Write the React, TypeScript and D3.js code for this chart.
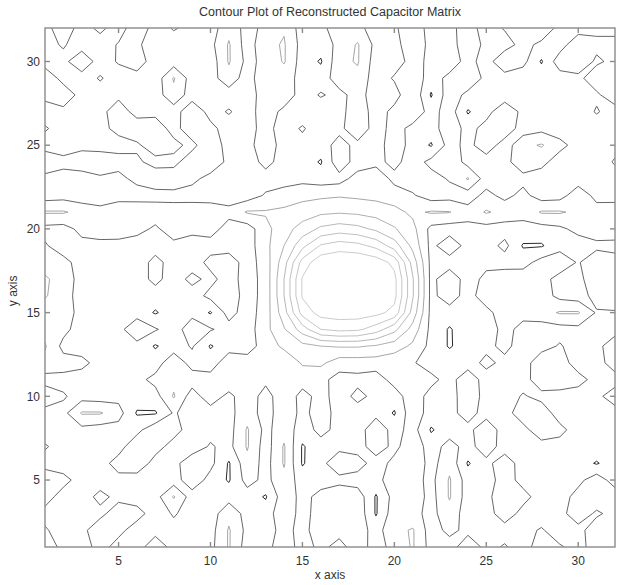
import React, { useEffect, useRef } from 'react';
import * as d3 from 'd3';

const title = 'Contour Plot of Reconstructed Capacitor Matrix';
const xLabel = 'x axis';
const yLabel = 'y axis';
const xTicks = [5, 10, 15, 20, 25, 30];
const yTicks = [5, 10, 15, 20, 25, 30];
const gridSize = 32;
const levels = [0.5, 1.5, 2.5, 3.5, 4.5, 5.5, 6.5, 7.5];
const levelColors = ['#2a2a2a', '#666666', '#a6a6a6', '#b0b0b0', '#b8b8b8', '#c0c0c0', '#c6c6c6', '#cccccc'];

// reconstructed matrix, one row per y value from 32 (top) down to 1, x = 1..32
const matrixRows = [
  [1.1, 2.2, 1, 1.8, 0.9, 2.3, 1, 1.6, 1.2, 1, 2.2, 1.1, 1.8, 2.4, 1, 1.2, 2.1, 1.8, 1, 1.3, 2.3, 1, 1.2, 2, 1, 1.6, 1.8, 2.4, 1.1, 1, 1.2, 0.9],
  [1.2, 1.6, 1, 0.9, 1.6, 1.6, 1.2, 1, 0.9, 1.2, 2.6, 1, 2.2, 2.6, 1.1, 0.9, 1.8, 2.6, 1.2, 1, 2.4, 1.1, 1, 2.2, 1.2, 1, 1.9, 1.2, 1, 2.3, 1.8, 2.1],
  [1, 1.2, 2.3, 1, 1.6, 1.9, 1.1, 1, 1.2, 0.9, 2.6, 1.2, 1.8, 2.6, 1, 0.4, 2.2, 2.6, 1, 1.1, 1.8, 1.3, 0.9, 1.9, 1, 2.4, 1.8, 0.4, 2.1, 2.3, 1.3, 1.8],
  [2.3, 1.1, 1, 1.6, 1, 1.2, 0.9, 2.6, 1, 1.1, 2.1, 1, 2.3, 1.9, 1.2, 1, 2, 2.2, 1, 1.6, 2.2, 1, 1.8, 2.3, 1.2, 1, 0.9, 1.1, 1, 1.2, 2.2, 1.8],
  [1.8, 2.2, 1.1, 1, 1.2, 1, 1, 2.2, 1, 1.2, 1, 1.1, 1.9, 2.2, 1, 1.6, 1.2, 1.9, 1, 1.1, 2.3, 0.4, 2.1, 1.2, 1, 0.9, 1.1, 1, 1.2, 1, 1.3, 2.2],
  [1, 1.2, 0.9, 1.1, 2.2, 1, 1.2, 1, 2.3, 1.1, 1.6, 1, 2.1, 1.2, 1, 0.9, 1.1, 2.2, 1, 1.8, 2.2, 1.1, 2, 0.4, 1.1, 2.3, 1.2, 1, 1.1, 0.9, 1.6, 1],
  [1.6, 1.1, 1, 1.2, 1.8, 2.3, 2.1, 1.1, 2.2, 1.8, 1, 1.2, 1.8, 1.1, 1.6, 1, 1.2, 2.3, 1, 1.9, 1.2, 1, 2.2, 1.1, 1.9, 2.2, 1, 1.2, 1, 1.1, 0.9, 1],
  [1.1, 1, 1.2, 1, 1.1, 1.3, 2.2, 1.8, 1.2, 2.3, 1, 1.1, 2.2, 1, 1.2, 1, 1.9, 1.2, 1, 2.1, 1.1, 0.4, 1.9, 1.2, 2.1, 1, 2.2, 2.6, 1.8, 1.1, 1, 1.2],
  [2.2, 1.8, 2.1, 2.3, 1.9, 1.7, 1.1, 1.2, 2.1, 2.3, 1.2, 1, 1.8, 1.1, 1, 0.4, 2.2, 1, 1.2, 1.8, 1, 1.8, 2.3, 1.1, 1, 1.2, 2.1, 1.8, 1, 1.1, 1, 1.6],
  [1.2, 1.1, 1, 1.3, 1.2, 1.8, 2.2, 2.1, 1.8, 1.1, 1, 1.2, 1.1, 1, 1.2, 1, 1.1, 1.9, 2.2, 1.2, 1, 1.1, 1.6, 2.6, 1, 1.1, 1.2, 1, 1.1, 1, 1.2, 1.1],
  [1, 1.1, 0.9, 1, 1.2, 1, 1.1, 1.2, 1, 1.1, 1, 1, 1.6, 2, 2.2, 2.3, 2.4, 2.3, 2.2, 2, 1.6, 1, 1.1, 1, 1.8, 1.2, 1.8, 1, 1.1, 2.1, 1.2, 1],
  [2.6, 2.6, 2.2, 1.8, 2, 2.3, 2.1, 1.9, 2.2, 2, 1.8, 2.6, 2.6, 2.7, 3, 3.3, 3.4, 3.3, 3.1, 2.8, 2.3, 2.6, 2.55, 1.9, 2.6, 2.2, 1.8, 2.6, 2.6, 2.3, 1.9, 2.2],
  [1.2, 1.1, 1.8, 2.2, 2.3, 1.9, 1.3, 2.1, 1.8, 1.9, 1.1, 1, 2.2, 3.1, 3.9, 4.7, 5, 4.8, 4.3, 3.6, 2.8, 1.2, 1, 1.2, 1.1, 1, 1.2, 1.1, 1.3, 1.8, 2.2, 2.3],
  [1.6, 1, 1.2, 1.1, 1, 0.9, 1.1, 1.2, 1, 1.1, 1, 1, 2.2, 3.5, 5.2, 6.6, 7, 6.8, 6.2, 5, 3.2, 1.2, 2.2, 1.1, 1, 1.8, 0.4, 0.4, 1.1, 1, 1.2, 1.1],
  [2.2, 1.8, 1.1, 1, 1.2, 1, 1.8, 1.1, 1, 1.8, 2.1, 1, 2, 4.1, 6.9, 8.2, 8.4, 8.4, 8.1, 7.2, 4.1, 1.2, 1, 1.1, 1.2, 1, 1.1, 1.9, 2.2, 1.4, 2.3, 2],
  [2.6, 2.2, 1, 1.1, 1.2, 1, 1.8, 1, 1.8, 1.2, 2, 1, 1.9, 4.5, 7.6, 8.4, 8.6, 8.6, 8.4, 7.8, 4.6, 1.2, 2.2, 1, 1.8, 2.2, 2.1, 1.9, 1.1, 1.2, 2.2, 1.8],
  [2.6, 1.9, 1.1, 1, 1, 1.2, 1, 1.1, 1, 1.8, 2.2, 1, 1.9, 4.5, 7.6, 8.4, 8.6, 8.6, 8.4, 7.8, 4.6, 1.2, 2.1, 1, 2.2, 1.9, 2.3, 2, 1.2, 1, 1.9, 2.2],
  [1.9, 2.2, 1, 1.2, 1, 1.1, 0.4, 1, 1.2, 0.4, 1.9, 1, 2, 4.1, 6.9, 7.9, 8, 8, 7.8, 7.2, 4.1, 1.2, 1, 1.2, 1.1, 2.2, 1.8, 2.1, 2.6, 2.6, 1.4, 1.4],
  [2.1, 1.8, 1, 1.1, 1.2, 2.2, 1.6, 1, 2.1, 1.6, 1.1, 1, 2.2, 3.4, 5, 6.5, 6.8, 6.7, 6, 4.8, 3.1, 1.2, 0.4, 1.1, 1, 1.8, 1.2, 1, 1.1, 1.2, 1, 1.1],
  [2.6, 1.2, 1, 1.1, 1, 1.2, 0.4, 1, 1.6, 0.4, 1.1, 1, 2, 2.7, 3.2, 3.5, 3.6, 3.6, 3.4, 3, 2.3, 1.2, 0.4, 1, 1.2, 1.8, 1, 1.1, 1.6, 1, 1.2, 2.1],
  [2.2, 1.9, 1.8, 1.1, 1, 1.2, 1, 2.2, 1.1, 1, 2.1, 2, 1.6, 1.8, 2.6, 2.7, 2, 2, 2, 1.8, 1.6, 1, 1.1, 1, 1.8, 1.2, 1, 2.2, 1.9, 1.1, 1, 2.1],
  [1.1, 1.2, 1, 1.1, 0.9, 1.2, 1.8, 2.2, 2, 1.9, 2.3, 2.1, 1.8, 2.2, 2, 1.8, 1.1, 1.2, 1, 1.9, 2.2, 1.8, 1.1, 2.2, 1, 1.2, 1.1, 2.1, 2.3, 1.8, 1.2, 1],
  [2.2, 1.6, 1.1, 1, 1.2, 1, 1.1, 2.6, 1, 2.1, 1.2, 2.2, 1, 2.3, 1.1, 1.9, 1, 1.8, 1.2, 1, 2.1, 1.1, 1, 2.2, 1.1, 1, 1.6, 1.2, 1, 1.1, 1.2, 2.1],
  [1.1, 1.2, 2.6, 2.6, 1.9, 0.4, 0.4, 1.6, 1.1, 1, 1.2, 2.1, 1, 2.2, 1.2, 2, 1.1, 1, 1.2, 0.4, 2.2, 1, 1.2, 1.9, 1.1, 1, 2.2, 2.1, 1, 1.2, 1.1, 1],
  [1, 1.1, 1.2, 1, 1.1, 1.2, 2.2, 1.9, 1, 1.2, 1.1, 2.6, 1.2, 2.1, 1, 1.8, 1.2, 1, 2.2, 1.1, 1.9, 0.4, 1, 1.2, 2.2, 1, 1.1, 2.3, 1.8, 1, 1.2, 1],
  [1.6, 1.1, 1, 1.2, 1.1, 2.2, 1.9, 1.1, 1, 1.6, 1.2, 2.6, 1, 2.6, 0.4, 1.1, 1.2, 1, 2.1, 1.2, 2.2, 1, 1.9, 1.1, 2.1, 1, 1.2, 1, 1.1, 1, 1.2, 1],
  [1.1, 1, 1.2, 1.1, 1.9, 2.2, 1.1, 1.2, 2.1, 1.8, 0.4, 2.2, 1.1, 2.6, 0.4, 1.2, 2.2, 2, 1, 1.8, 2.3, 1.1, 2.2, 0.4, 1.2, 2.1, 1, 1.1, 1.2, 1, 0.4, 1.1],
  [2.2, 1.8, 1.1, 1, 1.2, 1, 1.1, 1, 2.2, 1.1, 0.4, 1.9, 1.2, 2.2, 1, 1.1, 1.2, 1, 1.1, 2.2, 1.9, 1.2, 2.6, 1, 1.1, 1.9, 1.2, 1, 1.1, 1.2, 2.1, 1],
  [1.9, 1.1, 1, 1.8, 1.2, 1, 1.1, 2.6, 1, 1.2, 1.1, 1, 0.4, 2.1, 1.2, 1.8, 2.2, 2.1, 0.4, 1.9, 2.2, 1.1, 2.6, 1, 1.2, 2.2, 1.8, 1.1, 1, 1.9, 2.3, 2.1],
  [1.2, 1, 1.1, 1.2, 2.1, 1.9, 1, 1.6, 1.1, 1, 2.2, 1.1, 1, 2.2, 1.1, 2, 1.8, 2.2, 0.4, 2.1, 1.8, 1.2, 2.1, 1, 1.1, 2, 1.2, 1, 1.1, 2.2, 1.3, 1.9],
  [1.6, 1.1, 1.2, 2.2, 1.8, 1, 1.1, 1.2, 1, 1.1, 2.6, 1.2, 1, 1.9, 1.1, 2.2, 1.9, 2, 1.1, 2.2, 2.6, 1, 1.8, 1.2, 1, 1.1, 1.2, 1.6, 1, 1.1, 2.2, 1.9],
  [2.1, 1.2, 1, 1.9, 1.1, 1, 2.2, 1.1, 1, 1.2, 2.6, 1, 1.1, 2.2, 1, 1.8, 1.1, 2.1, 1, 1.9, 2.6, 1.1, 1, 2.2, 1.2, 1.6, 1, 2.1, 1.6, 1.2, 1.9, 2.2],
];

const ContourChart = ({ width = 619, height = 585 }) => {
  const svgRef = useRef(null);

  useEffect(() => {
    const svg = d3.select(svgRef.current);
    svg.selectAll('*').remove();

    const margin = { top: 28, right: 4, bottom: 38, left: 45 };
    const font = "'Liberation Sans', Arial, sans-serif";

    const x = d3.scaleLinear().domain([1, gridSize]).range([margin.left, width - margin.right]);
    const y = d3.scaleLinear().domain([1, gridSize]).range([height - margin.bottom, margin.top]);

    // d3.contours wants row-major values starting at the bottom row (y = 1)
    const values = [];
    for (let j = 0; j < gridSize; j++) {
      const row = matrixRows[gridSize - 1 - j];
      for (let i = 0; i < gridSize; i++) values.push(row[i]);
    }

    const contours = d3.contours().size([gridSize, gridSize]).thresholds(levels)(values);

    // grid cell i sits at coordinate i + 0.5, which is data value i + 1
    const projection = d3.geoTransform({
      point(px, py) {
        this.stream.point(x(px + 0.5), y(py + 0.5));
      },
    });
    const path = d3.geoPath(projection);

    svg.append('defs').append('clipPath').attr('id', 'plot-clip')
      .append('rect')
      .attr('x', x(1)).attr('y', y(gridSize))
      .attr('width', x(gridSize) - x(1)).attr('height', y(1) - y(gridSize));

    svg.append('rect').attr('width', width).attr('height', height).attr('fill', '#fff');

    svg.append('g')
      .attr('clip-path', 'url(#plot-clip)')
      .selectAll('path')
      .data(contours)
      .enter()
      .append('path')
      .attr('d', path)
      .attr('fill', 'none')
      .attr('stroke', (d, i) => levelColors[i])
      .attr('stroke-width', 1)
      .attr('stroke-linejoin', 'round');

    // box with inward ticks on all four sides
    const frame = svg.append('g').attr('stroke', '#8a8a8a').attr('stroke-width', 1.4);
    frame.append('rect')
      .attr('x', x(1)).attr('y', y(gridSize))
      .attr('width', x(gridSize) - x(1)).attr('height', y(1) - y(gridSize))
      .attr('fill', 'none');
    const tickLen = 5;
    xTicks.forEach(t => {
      frame.append('line').attr('x1', x(t)).attr('x2', x(t)).attr('y1', y(1)).attr('y2', y(1) - tickLen);
      frame.append('line').attr('x1', x(t)).attr('x2', x(t)).attr('y1', y(gridSize)).attr('y2', y(gridSize) + tickLen);
    });
    yTicks.forEach(t => {
      frame.append('line').attr('x1', x(1)).attr('x2', x(1) + tickLen).attr('y1', y(t)).attr('y2', y(t));
      frame.append('line').attr('x1', x(gridSize)).attr('x2', x(gridSize) - tickLen).attr('y1', y(t)).attr('y2', y(t));
    });

    svg.append('g')
      .selectAll('text')
      .data(xTicks)
      .enter()
      .append('text')
      .attr('x', d => x(d))
      .attr('y', y(1) + 17.5)
      .attr('text-anchor', 'middle')
      .style('font-family', font)
      .style('font-size', '12px')
      .style('fill', '#333')
      .text(d => d);

    svg.append('g')
      .selectAll('text')
      .data(yTicks)
      .enter()
      .append('text')
      .attr('x', x(1) - 5)
      .attr('y', d => y(d))
      .attr('dy', '0.35em')
      .attr('text-anchor', 'end')
      .style('font-family', font)
      .style('font-size', '12px')
      .style('fill', '#333')
      .text(d => d);

    svg.append('text')
      .attr('x', (x(1) + x(gridSize)) / 2)
      .attr('y', 16)
      .attr('text-anchor', 'middle')
      .style('font-family', font)
      .style('font-size', '12.5px')
      .style('fill', '#333')
      .text(title);

    svg.append('text')
      .attr('x', (x(1) + x(gridSize)) / 2)
      .attr('y', y(1) + 32)
      .attr('text-anchor', 'middle')
      .style('font-family', font)
      .style('font-size', '12px')
      .style('fill', '#333')
      .text(xLabel);

    svg.append('text')
      .attr('transform', `translate(17,${y(16.3)}) rotate(-90)`)
      .attr('text-anchor', 'middle')
      .style('font-family', font)
      .style('font-size', '12px')
      .style('fill', '#333')
      .text(yLabel);
  }, [width, height]);

  return (
    <svg ref={svgRef} width={width} height={height}
      style={{ position: 'absolute', left: 0, top: 0, display: 'block' }} />
  );
};

export default function App() {
  return <ContourChart />;
}
